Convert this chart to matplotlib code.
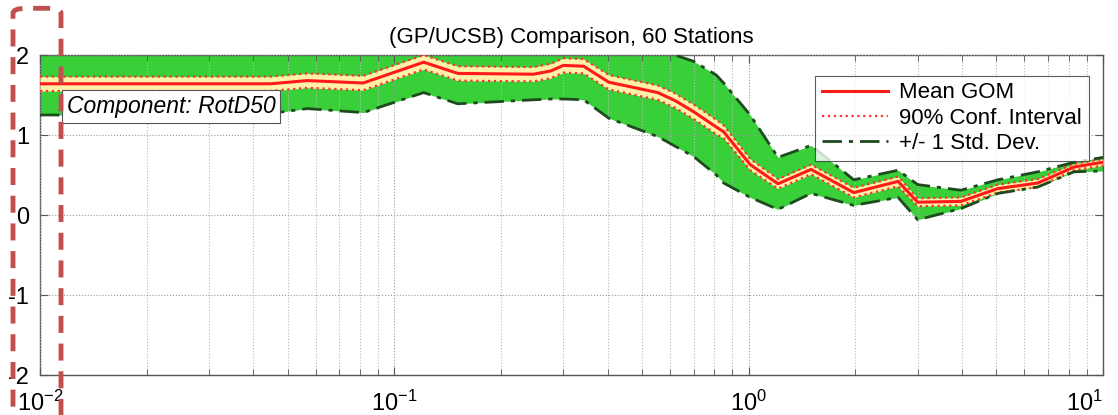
import matplotlib
matplotlib.use('Agg')
import matplotlib.pyplot as plt
import numpy as np
from matplotlib.patches import FancyBboxPatch
from matplotlib.ticker import LogLocator, NullFormatter, FixedLocator, FixedFormatter

plt.rcParams['font.family'] = ['Liberation Sans', 'DejaVu Sans']
plt.rcParams['mathtext.fontset'] = 'custom'
plt.rcParams['mathtext.rm'] = 'Liberation Sans'

# spectral period (s) and goodness-of-fit statistics
period = [0.01, 0.0283, 0.0447, 0.0568, 0.0817, 0.121, 0.151, 0.247, 0.276,
          0.30, 0.342, 0.403, 0.554, 0.62, 0.70, 0.81, 0.85, 1.01, 1.21, 1.50,
          1.98, 2.64, 3.0, 3.97, 5.05, 6.55, 8.28, 10.0]
mean_gom = [1.64, 1.64, 1.64, 1.68, 1.65, 1.91, 1.77, 1.76, 1.80,
            1.87, 1.86, 1.66, 1.53, 1.43, 1.29, 1.10, 1.04, 0.63, 0.39, 0.57,
            0.28, 0.42, 0.16, 0.17, 0.33, 0.40, 0.60, 0.66]
std_hi = [2.10, 2.10, 2.10, 2.10, 2.10, 2.10, 2.10, 2.10, 2.10,
          2.10, 2.10, 2.10, 2.05, 2.00, 1.92, 1.75, 1.65, 1.25, 0.72, 0.87,
          0.44, 0.56, 0.38, 0.31, 0.44, 0.54, 0.66, 0.72]
std_lo = [1.25, 1.25, 1.27, 1.33, 1.28, 1.53, 1.39, 1.44, 1.45,
          1.45, 1.44, 1.21, 0.98, 0.86, 0.73, 0.50, 0.40, 0.22, 0.07, 0.27,
          0.12, 0.22, -0.06, 0.08, 0.27, 0.35, 0.54, 0.55]
ci_half = [0.09, 0.09, 0.09, 0.09, 0.09, 0.09, 0.09, 0.09, 0.09,
           0.09, 0.09, 0.09, 0.09, 0.09, 0.09, 0.09, 0.08, 0.07, 0.06, 0.06,
           0.06, 0.06, 0.05, 0.05, 0.05, 0.05, 0.04, 0.04]
xtick_vals = [0.01, 0.1, 1, 10]
xtick_text = [r'$\mathregular{10^{-2}}$', r'$\mathregular{10^{-1}}$',
              r'$\mathregular{10^{0}}$', r'$\mathregular{10^{1}}$']

T = np.array(period)
m = np.array(mean_gom)
ci = np.array(ci_half)

fig = plt.figure(figsize=(11.18, 4.15), dpi=100)
ax = fig.add_axes([40/1118, 1-375/415, 1063/1118, 320/415])

green = '#38cf38'
ax.fill_between(T, std_lo, std_hi, color=green, lw=0, zorder=2)
ax.fill_between(T, m-ci, m+ci, color='#fff2a8', lw=0, zorder=3)
ax.plot(T, m+ci, ls=':', color='#ff3030', lw=1.6, zorder=4)
ax.plot(T, m-ci, ls=':', color='#ff3030', lw=1.6, zorder=4)
l_mean, = ax.plot(T, m, color='#ff1a1a', lw=2.2, zorder=5, label='Mean GOM')
l_ci, = ax.plot([], [], ls=':', color='#ff3030', lw=1.6, label='90% Conf. Interval')
l_std, = ax.plot(T, std_hi, color='#1f4a1f', lw=2, dashes=(7, 2.5, 1.5, 2.5), zorder=4,
                 label='+/- 1 Std. Dev.')
ax.plot(T, std_lo, color='#1f4a1f', lw=2, dashes=(7, 2.5, 1.5, 2.5), zorder=4)

ax.set_xscale('log')
ax.set_xlim(0.01, 10)
ax.set_ylim(-2, 2)
ax.set_yticks([-2, -1, 0, 1, 2])
ax.set_yticklabels(['-2', '-1', '0', '1', '2'])
ax.xaxis.set_major_locator(FixedLocator(xtick_vals))
ax.xaxis.set_major_formatter(FixedFormatter(xtick_text))
ax.xaxis.set_minor_locator(LogLocator(base=10, subs=np.arange(2, 10)))
ax.xaxis.set_minor_formatter(NullFormatter())
ax.grid(True, which='major', ls=':', color='#9a9a9a', lw=0.8, zorder=1)
ax.xaxis.grid(True, which='minor', ls=':', color='#b8b8b8', lw=0.8, zorder=1)
ax.tick_params(which='both', direction='in', top=True, right=True, labelsize=17, color='#555555')
ax.tick_params(axis='x', which='major', length=6, pad=11)
ax.tick_params(axis='x', which='minor', length=4)
ax.tick_params(axis='y', length=6, pad=8)
for s in ax.spines.values():
    s.set_color('#555555')
    s.set_linewidth(1.0)
ax.set_axisbelow(False)

# keep the last decade label inside the figure
fig.canvas.draw()
ax.get_xticklabels()[-1].set_ha('right')

ax.set_title('(GP/UCSB) Comparison, 60 Stations', fontsize=16, pad=9)

leg = ax.legend(handles=[l_mean, l_ci, l_std], loc='upper right', bbox_to_anchor=(0.997, 0.97),
                fontsize=16, frameon=True, fancybox=False, edgecolor='#333333',
                handlelength=3.0, borderpad=0.3, labelspacing=0.2, handletextpad=0.5)
leg.get_frame().set_linewidth(0.8)
leg.set_zorder(10)

ax.text(0.025, 0.875, 'Component: RotD50', transform=ax.transAxes, fontsize=16.5, style='italic',
        va='top', ha='left', zorder=10,
        bbox=dict(boxstyle='square,pad=0.2', fc='white', ec='#555555', lw=0.8))

# highlight box around the y tick labels
box = FancyBboxPatch((13/1118, -0.05), 48/1118, 1.03, transform=fig.transFigure,
                     boxstyle='round,pad=0,rounding_size=0.012', fill=False,
                     ec='#c0504d', lw=3.5, ls=(0, (3.5, 2.2)), clip_on=False, zorder=20)
fig.patches.append(box)

fig.savefig('out.png', dpi=100)
